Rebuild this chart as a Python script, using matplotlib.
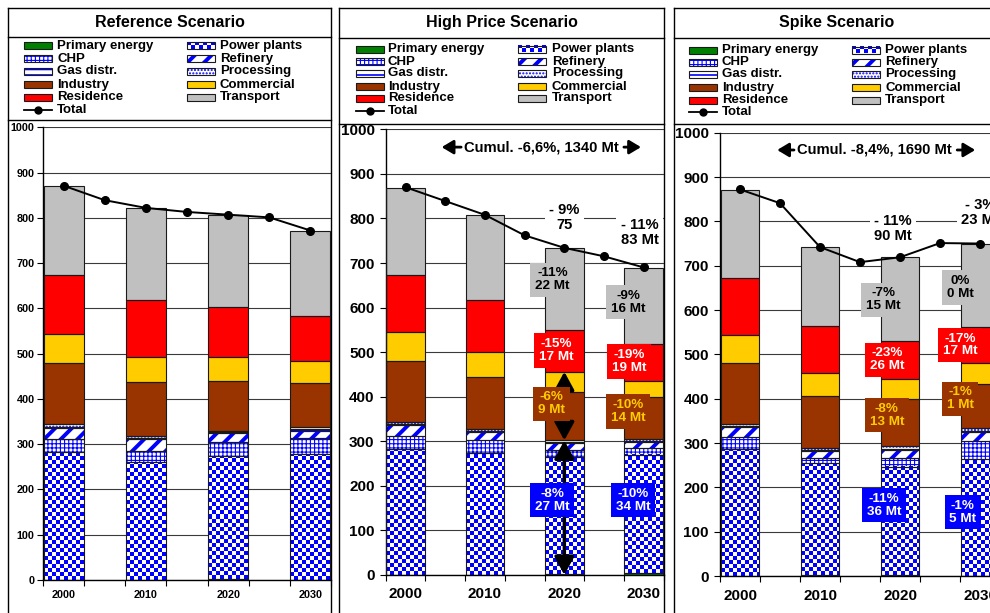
import numpy as np
import matplotlib
matplotlib.use('Agg')
import matplotlib.pyplot as plt
from matplotlib.colors import ListedColormap
from matplotlib.patches import Rectangle
from matplotlib.lines import Line2D

plt.rcParams['font.family'] = ['Liberation Sans', 'DejaVu Sans']
plt.rcParams['font.weight'] = 'bold'
plt.rcParams['hatch.linewidth'] = 1.0

# ---- data : CO2 emissions, Mt ----
segments = ['Primary energy', 'Power plants', 'CHP', 'Refinery', 'Gas distr.',
            'Processing', 'Industry', 'Commercial', 'Residence', 'Transport']
bar_years = ['2000', '2010', '2020', '2030']
line_years = [2000, 2005, 2010, 2015, 2020, 2025, 2030]

# stacked values per year, same order as segments
ref_2000 = [1, 282, 28, 25, 3, 5, 135, 64, 131, 196]
ref_2010 = [1, 260, 25, 25, 2, 4, 120, 56, 126, 203]
ref_2020 = [3, 270, 32, 20, 2, 3, 110, 53, 109, 205]
ref_2030 = [1, 278, 34, 17, 3, 6, 96, 48, 101, 188]
ref_total = [871, 839, 822, 813, 807, 801, 772]

hp_2000 = [1, 282, 28, 25, 3, 5, 137, 64, 128, 196]
hp_2010 = [1, 272, 29, 19, 2, 5, 117, 55, 117, 190]
hp_2020 = [3, 262, 15, 16, 2, 4, 108, 46, 94, 183]
hp_2030 = [4, 265, 17, 13, 2, 4, 94, 37, 82, 171]
hp_total = [870, 839, 808, 762, 734, 715, 690]

sp_2000 = [1, 285, 27, 24, 2, 5, 136, 64, 129, 198]
sp_2010 = [3, 251, 12, 17, 2, 3, 117, 54, 106, 177]
sp_2020 = [3, 244, 19, 18, 3, 7, 105, 45, 86, 189]
sp_2030 = [1, 263, 41, 20, 3, 5, 100, 47, 81, 187]
sp_total = [872, 841, 742, 708, 719, 751, 750]

titles = ['Reference Scenario', 'High Price Scenario', 'Spike Scenario']

hp_cumul = 'Cumul. -6,6%, 1340 Mt'
hp_total_diff = ['- 9%\n75', '- 11%\n83 Mt']
hp_transport_diff = ['-11%\n22 Mt', '-9%\n16 Mt']
hp_residence_diff = ['-15%\n17 Mt', '-19%\n19 Mt']
hp_industry_diff = ['-6%\n9 Mt', '-10%\n14 Mt']
hp_power_diff = ['-8%\n27 Mt', '-10%\n34 Mt']

sp_cumul = 'Cumul. -8,4%, 1690 Mt'
sp_total_diff = ['- 11%\n90 Mt', '- 3%\n23 Mt']
sp_transport_diff = ['-7%\n15 Mt', '0%\n0 Mt']
sp_residence_diff = ['-23%\n26 Mt', '-17%\n17 Mt']
sp_industry_diff = ['-8%\n13 Mt', '-1%\n1 Mt']
sp_power_diff = ['-11%\n36 Mt', '-1%\n5 Mt']

# ---- styles ----
BLUE = '#0000FF'
seg_style = {
    'Primary energy': ('#008000', None, 0),
    'Power plants': ('checker', None, 0),
    'CHP': ('white', '++++', 0.8),
    'Refinery': ('white', '//', 2.8),
    'Gas distr.': ('white', '---', 1.2),
    'Processing': ('white', '.....', 1.0),
    'Industry': ('#993300', None, 0),
    'Commercial': ('#FFCC00', None, 0),
    'Residence': ('#FF0000', None, 0),
    'Transport': ('#C0C0C0', None, 0),
}
box_style = {
    'white': ('white', 'black'),
    'gray': ('#C0C0C0', 'black'),
    'red': ('#FF0000', 'white'),
    'brown': ('#993300', '#FFCC00'),
    'blue': (BLUE, 'white'),
}
blue_white = ListedColormap(['white', BLUE])
EDGE = '#1a1a1a'
CELL = 4  # checker cell, px

W, H = 990, 613
fig = plt.figure(figsize=(W / 100, H / 100), dpi=100)

bg = fig.add_axes([0, 0, 1, 1], zorder=0)
bg.set_xlim(0, W)
bg.set_ylim(H, 0)
bg.axis('off')


def checker(ax, x0, x1, y0, y1, wpx, hpx, z):
    # pattern built pixel by pixel so the squares stay square
    wpx, hpx = max(int(round(wpx)), 1), max(int(round(hpx)), 1)
    ii, jj = np.indices((hpx, wpx))
    board = (ii // CELL + jj // CELL) % 2
    ax.imshow(board, extent=(x0, x1, y0, y1), cmap=blue_white, vmin=0, vmax=1,
              interpolation='nearest', aspect='auto', origin='lower', zorder=z)


def hatch_lw(patches, lw):
    for p in patches:
        if hasattr(p, 'set_hatch_linewidth'):
            p.set_hatch_linewidth(lw)


# panel layouts (pixels)
panels = [
    dict(frame=(8, 331), tbot=37, lbot=120, ty=22.5,
         rows=[45.7, 58.7, 71, 84.7, 97.3, 110], c1=16, t1=49, c2=179, t2=212,
         box=(43, 127.3, 331, 580), tick=7.8, ypad=2, xpad=7.5),
    dict(frame=(339, 664), tbot=38, lbot=124, ty=22.5,
         rows=[49, 61.7, 73.3, 86.7, 98.3, 111], c1=17, t1=49, c2=179, t2=213,
         box=(385.7, 129.3, 663.6, 575), tick=11, ypad=4, xpad=9),
    dict(frame=(674, 1000), tbot=38, lbot=124, ty=23,
         rows=[50, 62.3, 74, 87.7, 100, 112.3], c1=15, t1=48, c2=178, t2=211,
         box=(720, 132.7, 1000, 576), tick=11, ypad=4, xpad=9),
]

col1 = ['Primary energy', 'CHP', 'Gas distr.', 'Industry', 'Residence', 'Total']
col2 = ['Power plants', 'Refinery', 'Processing', 'Commercial', 'Transport']


def legend_handle(name, x, y):
    w, h = 28, 7
    if name == 'Total':
        bg.add_line(Line2D([x, x + w], [y, y], color='black', lw=1.3))
        bg.plot([x + w / 2], [y], 'o', color='black', ms=5)
        return
    face, hatch, hl = seg_style[name]
    if face == 'checker':
        checker(bg, x, x + w, y + h / 2, y - h / 2, w, h, 2)
    elif hatch:
        r = Rectangle((x, y - h / 2), w, h, facecolor=face, edgecolor=BLUE, hatch=hatch, lw=0, zorder=2)
        hatch_lw([r], hl)
        bg.add_patch(r)
    else:
        bg.add_patch(Rectangle((x, y - h / 2), w, h, facecolor=face, lw=0, zorder=2))
    bg.add_patch(Rectangle((x, y - h / 2), w, h, fill=False, edgecolor=EDGE, lw=0.8, zorder=3))


for p, title in zip(panels, titles):
    fl, fr = p['frame']
    for yy in (8, p['tbot'], p['lbot']):
        bg.plot([fl, fr], [yy, yy], color='black', lw=1)
    bg.plot([fl, fl], [8, H + 5], color='black', lw=1)
    bg.plot([fr, fr], [8, H + 5], color='black', lw=1)
    bg.text((fl + fr) / 2, p['ty'], title, ha='center', va='center', fontsize=11.5)
    for name, yy in zip(col1, p['rows']):
        legend_handle(name, fl + p['c1'], yy)
        bg.text(fl + p['t1'], yy, name, ha='left', va='center', fontsize=9.5)
    for name, yy in zip(col2, p['rows']):
        legend_handle(name, fl + p['c2'], yy)
        bg.text(fl + p['t2'], yy, name, ha='left', va='center', fontsize=9.5)
bg.set_xlim(0, W)
bg.set_ylim(H, 0)


def draw_chart(p, stacks, total):
    l, t, r, b = p['box']
    ax = fig.add_axes([l / W, 1 - b / H, (r - l) / W, (b - t) / H], zorder=1)
    ax.patch.set_visible(False)
    px_cat = (r - l) / 7
    px_unit = (b - t) / 1000
    bar_w = 0.97
    x = np.array([(int(y) - 2000) / 5 for y in bar_years])
    vals = np.array(stacks, dtype=float)
    bottom = np.zeros(len(x))
    for k, seg in enumerate(segments):
        h = vals[:, k]
        face, hatch, hl = seg_style[seg]
        if face == 'checker':
            bars = ax.bar(x, h, bar_w, bottom=bottom, color='white', lw=0, zorder=2)
            for rect in bars:
                x0, y0 = rect.get_x(), rect.get_y()
                hh = rect.get_height()
                checker(ax, x0, x0 + bar_w, y0, y0 + hh,
                        bar_w * px_cat, hh * px_unit, 2.1)
        elif hatch:
            bars = ax.bar(x, h, bar_w, bottom=bottom, color=face, edgecolor=BLUE,
                          hatch=hatch, lw=0, zorder=2)
            hatch_lw(bars, hl)
        else:
            ax.bar(x, h, bar_w, bottom=bottom, color=face, lw=0, zorder=2)
        ax.bar(x, h, bar_w, bottom=bottom, fill=False, edgecolor=EDGE, lw=0.8, zorder=3)
        bottom += h
    lx = [(yr - 2000) / 5 for yr in line_years]
    ax.plot(lx, total, color='black', lw=1.4, marker='o', ms=5.5, zorder=5)

    ax.set_xlim(-0.5, 6.5)
    ax.set_ylim(0, 1000)
    ax.set_yticks(range(0, 1001, 100))
    ax.grid(axis='y', color='#3a3a3a', lw=0.8)
    ax.set_axisbelow(True)
    ax.set_xticks(np.arange(-0.5, 7, 1))
    ax.set_xticklabels([])
    ax.set_xticks(x, minor=True)
    ax.set_xticklabels(bar_years, minor=True, fontsize=p['tick'])
    ax.tick_params(axis='x', which='major', length=4, direction='out')
    ax.tick_params(axis='x', which='minor', length=0, pad=p['xpad'])
    ax.tick_params(axis='y', length=4, pad=p['ypad'], labelsize=p['tick'])
    for s in ('top', 'right'):
        ax.spines[s].set_visible(False)
    for s in ('left', 'bottom'):
        ax.spines[s].set_linewidth(1)
    return ax


def box_label(ax, x, y, text, kind, size=9.7):
    fc, tc = box_style[kind]
    pad = 0.3 if kind == 'white' else 0.35
    ax.text(x, y, text, ha='center', va='center', color=tc, fontsize=size,
            linespacing=1.1, zorder=8, clip_on=False,
            bbox=dict(boxstyle=f'square,pad={pad}', fc=fc, ec='none'))


def cumul(ax, text, x, y, left_arrow, right_arrow):
    ax.text(x, y, text, ha='center', va='center', fontsize=10.6, zorder=8)
    style = '-|>,head_length=0.5,head_width=0.3'
    for tail, head in (left_arrow, right_arrow):
        ax.annotate('', xy=(head, y), xytext=(tail, y),
                    arrowprops=dict(arrowstyle=style, color='black', lw=2,
                                    mutation_scale=14, shrinkA=0, shrinkB=0))


ax1 = draw_chart(panels[0], [ref_2000, ref_2010, ref_2020, ref_2030], ref_total)
ax2 = draw_chart(panels[1], [hp_2000, hp_2010, hp_2020, hp_2030], hp_total)
ax3 = draw_chart(panels[2], [sp_2000, sp_2010, sp_2020, sp_2030], sp_total)

# High price annotations
cumul(ax2, hp_cumul, 3.43, 960, (1.40, 0.91), (5.50, 5.93))
for txt, (x, y) in zip(hp_total_diff, [(4.0, 802), (5.9, 768)]):
    box_label(ax2, x, y, txt, 'white', 10.6)
for txt, (x, y) in zip(hp_transport_diff, [(3.7, 662), (5.61, 612)]):
    box_label(ax2, x, y, txt, 'gray')
for txt, (x, y) in zip(hp_residence_diff, [(3.8, 504), (5.63, 479)]):
    box_label(ax2, x, y, txt, 'red')
for txt, (x, y) in zip(hp_industry_diff, [(3.68, 384), (5.61, 367)]):
    box_label(ax2, x, y, txt, 'brown')
for txt, (x, y) in zip(hp_power_diff, [(3.7, 168), (5.74, 168)]):
    box_label(ax2, x, y, txt, 'blue')
hp20 = np.cumsum(hp_2020)
for y0, y1 in ((hp20[5], hp20[7]), (0, hp20[5])):
    ax2.annotate('', xy=(4, y1), xytext=(4, y0),
                 arrowprops=dict(arrowstyle='<|-|>,head_length=0.55,head_width=0.3',
                                 color='black', lw=2.5, mutation_scale=20,
                                 shrinkA=0, shrinkB=0), zorder=6)

# Spike annotations
cumul(ax3, sp_cumul, 3.35, 961, (1.35, 0.93), (5.43, 5.88))
for txt, (x, y) in zip(sp_total_diff, [(3.82, 783), (6.0, 820)]):
    box_label(ax3, x, y, txt, 'white', 10.6)
for txt, (x, y) in zip(sp_transport_diff, [(3.58, 623), (5.51, 651)]):
    box_label(ax3, x, y, txt, 'gray')
for txt, (x, y) in zip(sp_residence_diff, [(3.67, 488), (5.5, 521)]):
    box_label(ax3, x, y, txt, 'red')
for txt, (x, y) in zip(sp_industry_diff, [(3.67, 363), (5.5, 400)]):
    box_label(ax3, x, y, txt, 'brown')
for txt, (x, y) in zip(sp_power_diff, [(3.6, 160), (5.57, 144)]):
    box_label(ax3, x, y, txt, 'blue')

fig.savefig('out.png', dpi=100)
